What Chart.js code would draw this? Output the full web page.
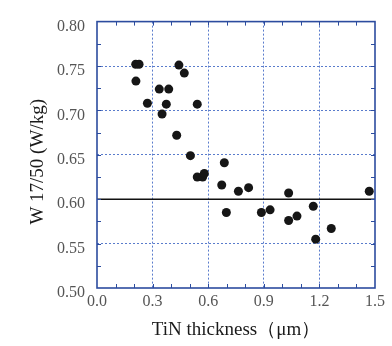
<!DOCTYPE html>
<html lang="en">
<head>
<meta charset="UTF-8">
<title>W17/50 vs TiN thickness</title>
<style>
    html, body { margin: 0; padding: 0; background: #fff; overflow: hidden; }
    #wrap { width: 392px; height: 346px; }
</style>
</head>
<body>
<div id="wrap"><canvas id="chart"></canvas></div>
<script src="https://cdn.jsdelivr.net/npm/chart.js"></script>
<script>
// values
const thickness = [0.209, 0.227, 0.442, 0.471, 0.210, 0.336, 0.387, 0.272, 0.374, 0.541,
                   0.351, 0.430, 0.504, 0.687, 0.541, 0.570, 0.579, 0.673, 0.763, 0.818,
                   1.034, 1.469, 0.698, 0.887, 0.934, 1.034, 1.079, 1.167, 1.264, 1.180];
const coreLoss  = [0.752, 0.752, 0.751, 0.742, 0.733, 0.724, 0.724, 0.708, 0.707, 0.707,
                   0.696, 0.672, 0.649, 0.641, 0.625, 0.625, 0.629, 0.616, 0.609, 0.613,
                   0.607, 0.609, 0.585, 0.585, 0.588, 0.576, 0.581, 0.592, 0.567, 0.555];
const limitValue = 0.60;
const xRange = [0, 1.5];
const yRange = [0.50, 0.80];

const BLUE = '#2c4c9f';
const GRID = '#5a7ccc';

const points = thickness.map((x, i) => ({ x: x, y: coreLoss[i] }));

// box round the plot plus small inward ticks on all four sides
const framePlugin = {
    id: 'frame',
    afterDraw(chart) {
        const { ctx, chartArea: a, scales } = chart;
        const xs = scales.x, ys = scales.y;
        ctx.save();
        ctx.strokeStyle = BLUE;
        ctx.lineWidth = 1;
        for (let v = 0.1; v < 1.5; v += 0.1) {
            const px = Math.round(xs.getPixelForValue(v)) + 0.5;
            ctx.beginPath();
            ctx.moveTo(px, a.bottom); ctx.lineTo(px, a.bottom - 4);
            ctx.moveTo(px, a.top); ctx.lineTo(px, a.top + 4);
            ctx.stroke();
        }
        for (let v = 0.525; v < 0.8; v += 0.025) {
            const py = Math.round(ys.getPixelForValue(v)) + 0.5;
            ctx.beginPath();
            ctx.moveTo(a.left, py); ctx.lineTo(a.left + 4, py);
            ctx.moveTo(a.right, py); ctx.lineTo(a.right - 4, py);
            ctx.stroke();
        }
        ctx.lineWidth = 1.6;
        ctx.strokeRect(a.left, a.top, a.right - a.left, a.bottom - a.top);

        // axis titles
        ctx.fillStyle = '#1a1a1a';
        ctx.font = '19px "Liberation Serif", serif';
        ctx.textAlign = 'center';
        ctx.textBaseline = 'middle';
        ctx.fillText('TiN thickness（μm）', (a.left + a.right) / 2, 330);
        ctx.translate(38.5, (a.top + a.bottom) / 2 + 7);
        ctx.rotate(-Math.PI / 2);
        ctx.fillText('W 17/50 (W/kg)', 0, 0);
        ctx.restore();
    }
};

new Chart(document.getElementById('chart'), {
    type: 'scatter',
    data: {
        datasets: [
            {
                data: points,
                pointRadius: 4.5,
                pointHoverRadius: 4.5,
                pointBackgroundColor: '#161616',
                pointBorderColor: '#161616',
                pointBorderWidth: 0
            },
            {
                data: [{ x: xRange[0], y: limitValue }, { x: xRange[1], y: limitValue }],
                showLine: true,
                borderColor: '#111',
                borderWidth: 1.6,
                pointRadius: 0
            }
        ]
    },
    options: {
        responsive: true,
        maintainAspectRatio: false,
        animation: false,
        layout: { padding: { top: 13, right: 17, left: 0, bottom: 0 } },
        plugins: { legend: { display: false }, tooltip: { enabled: false } },
        scales: {
            x: {
                type: 'linear',
                min: xRange[0],
                max: xRange[1],
                afterFit(scale) { scale.height = 58; },
                ticks: {
                    stepSize: 0.3,
                    padding: 4,
                    color: '#555',
                    font: { family: '"Liberation Serif", serif', size: 16 },
                    callback: (v) => Number(v).toFixed(1)
                },
                grid: {
                    color: (c) => (c.index === 0 || c.index === 5) ? 'rgba(0,0,0,0)' : GRID,
                    drawTicks: false,
                    lineWidth: 1
                },
                border: { display: false, dash: [2, 2] }
            },
            y: {
                type: 'linear',
                min: yRange[0],
                max: yRange[1],
                afterFit(scale) { scale.width = 97; },
                ticks: {
                    stepSize: 0.05,
                    padding: 12,
                    labelOffset: 5,
                    color: '#555',
                    font: { family: '"Liberation Serif", serif', size: 16 },
                    callback: (v) => Number(v).toFixed(2)
                },
                grid: {
                    color: (c) => (c.index === 0 || c.index === 6) ? 'rgba(0,0,0,0)' : GRID,
                    drawTicks: false,
                    lineWidth: 1
                },
                border: { display: false, dash: [2, 2] }
            }
        }
    },
    plugins: [framePlugin]
});
</script>
</body>
</html>
